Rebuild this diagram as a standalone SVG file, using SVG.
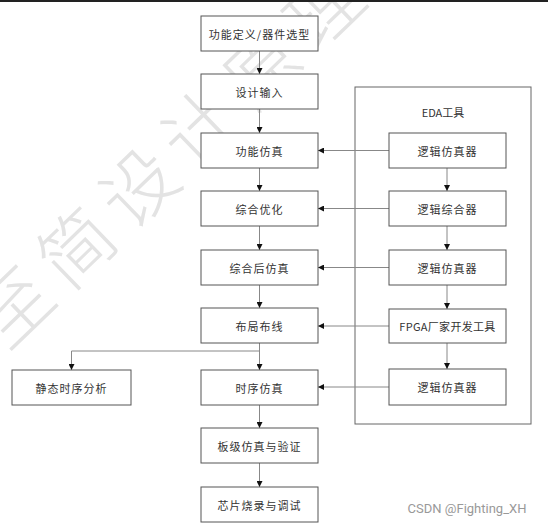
<svg xmlns="http://www.w3.org/2000/svg" width="548" height="527" viewBox="0 0 548 527">
<defs>
<style>
.box{fill:#fff;stroke:#555;stroke-width:1}
.outer{fill:none;stroke:#666;stroke-width:1}
.t{font-family:"Noto Sans CJK SC","Liberation Sans",sans-serif;font-size:11px;fill:#333;text-anchor:middle;dominant-baseline:central;letter-spacing:1px}
.c{fill:none;stroke:#888;stroke-width:1;marker-end:url(#ah)}
.wm{font-family:"Noto Sans CJK SC",sans-serif;font-size:74px;fill:#e3e3e3;font-weight:300;letter-spacing:12px}
</style>
<marker id="ah" viewBox="0 0 6 6" refX="6" refY="3" markerWidth="6" markerHeight="6" markerUnits="userSpaceOnUse" orient="auto">
<path d="M0,0 L6,3 L0,6 z" fill="#111"/>
</marker>
</defs>
<rect width="548" height="527" fill="#fff"/>
<text class="wm" x="0" y="0" text-anchor="middle" dominant-baseline="central" transform="translate(170,150) rotate(-44)">至简设计原理</text>
<rect x="0" y="0" width="548" height="2" fill="#222"/>

<g id="eda">
<rect class="outer" x="355" y="87" width="176" height="337"/>
<text class="t" x="443" y="112" style="letter-spacing:0">EDA工具</text>
</g>

<g id="connectors">
<path class="c" d="M259.5,51 V74"/>
<path class="c" d="M259.5,109 V133"/>
<path class="c" d="M259.5,168 V191"/>
<path class="c" d="M259.5,226 V250"/>
<path class="c" d="M259.5,285 V308"/>
<path class="c" d="M259.5,343 V370"/>
<path class="c" d="M259.5,351 H71.5 V370"/>
<path class="c" d="M259.5,405 V428"/>
<path class="c" d="M259.5,463 V487"/>
<path class="c" d="M447,168 V191"/>
<path class="c" d="M447,226 V250"/>
<path class="c" d="M447,285 V309"/>
<path class="c" d="M447,343 V369"/>
<path class="c" d="M389,150.5 H318"/>
<path class="c" d="M389,208.5 H318"/>
<path class="c" d="M389,267.5 H318"/>
<path class="c" d="M389,326 H318"/>
<path class="c" d="M389,387 H318"/>
</g>

<g id="n1"><rect class="box" x="201" y="16" width="117" height="35"/><text class="t" x="259.5" y="33.5">功能定义/器件选型</text></g>
<g id="n2"><rect class="box" x="201" y="74" width="117" height="35"/><text class="t" x="259.5" y="91.5">设计输入</text></g>
<g id="n3"><rect class="box" x="201" y="133" width="117" height="35"/><text class="t" x="259.5" y="150.5">功能仿真</text></g>
<g id="n4"><rect class="box" x="201" y="191" width="117" height="35"/><text class="t" x="259.5" y="208.5">综合优化</text></g>
<g id="n5"><rect class="box" x="201" y="250" width="117" height="35"/><text class="t" x="259.5" y="267.5">综合后仿真</text></g>
<g id="n6"><rect class="box" x="201" y="308" width="117" height="35"/><text class="t" x="259.5" y="325.5">布局布线</text></g>
<g id="n7"><rect class="box" x="201" y="370" width="117" height="35"/><text class="t" x="259.5" y="387.5">时序仿真</text></g>
<g id="n8"><rect class="box" x="201" y="428" width="117" height="35"/><text class="t" x="259.5" y="445.5">板级仿真与验证</text></g>
<g id="n9"><rect class="box" x="201" y="487" width="117" height="35"/><text class="t" x="259.5" y="504.5">芯片烧录与调试</text></g>
<g id="sta"><rect class="box" x="12" y="370" width="119" height="35"/><text class="t" x="71.5" y="387.5">静态时序分析</text></g>

<g id="e1"><rect class="box" x="389" y="133" width="117" height="35"/><text class="t" x="447.5" y="150.5">逻辑仿真器</text></g>
<g id="e2"><rect class="box" x="389" y="191" width="117" height="35"/><text class="t" x="447.5" y="208.5">逻辑综合器</text></g>
<g id="e3"><rect class="box" x="389" y="250" width="117" height="35"/><text class="t" x="447.5" y="267.5">逻辑仿真器</text></g>
<g id="e4"><rect class="box" x="389" y="309" width="117" height="34"/><text class="t" x="447.5" y="326" style="letter-spacing:0.3px">FPGA厂家开发工具</text></g>
<g id="e5"><rect class="box" x="389" y="369" width="117" height="36"/><text class="t" x="447.5" y="387">逻辑仿真器</text></g>

<text x="467" y="508" text-anchor="middle" dominant-baseline="central" font-family="Roboto, 'Liberation Sans', sans-serif" font-size="13" fill="#999">CSDN @Fighting_XH</text>
</svg>
